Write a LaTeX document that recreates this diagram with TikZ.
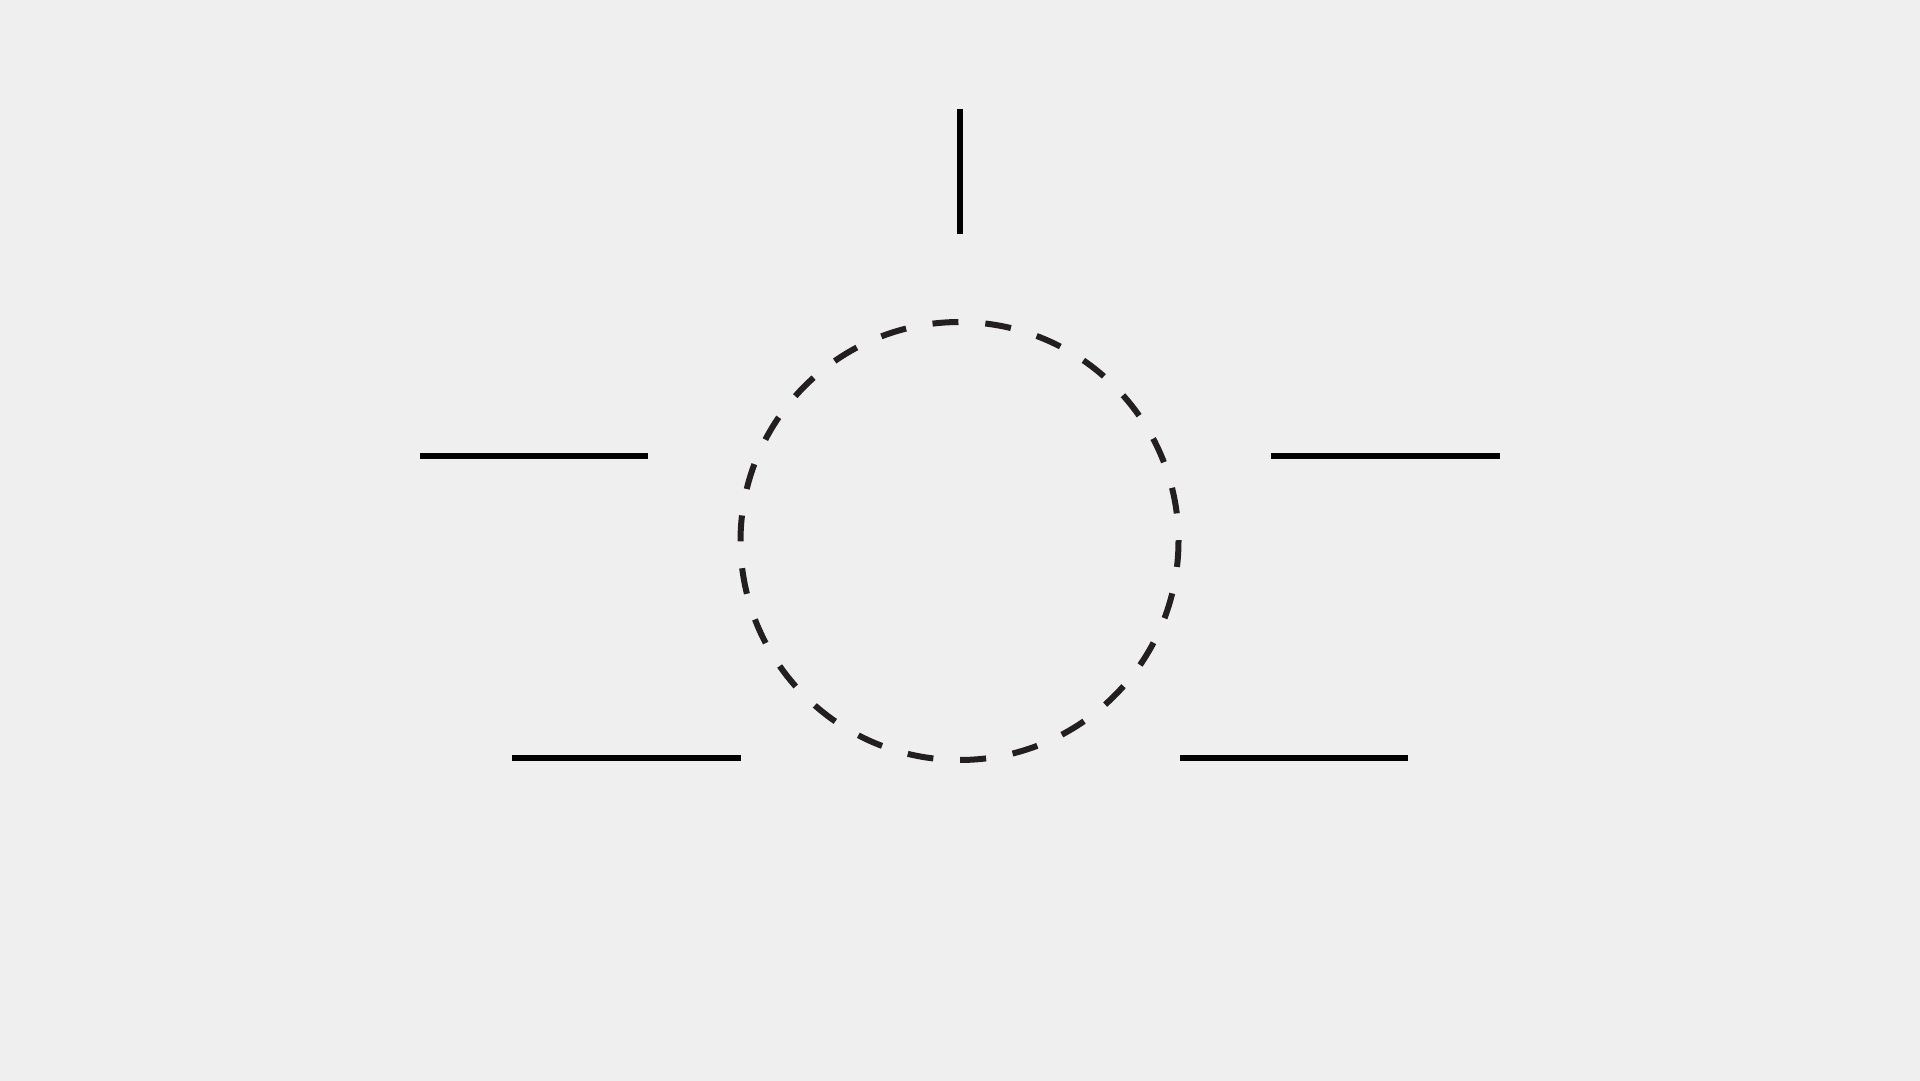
\documentclass[tikz,border=0pt]{standalone}
\definecolor{bg}{HTML}{EFEFEF}
\definecolor{dashcol}{HTML}{231F20}
\tikzset{
  bar/.style={line width=6pt, draw=black},
  ring/.style={line width=6pt, draw=dashcol, dash pattern=on 26pt off 26.9pt}
}
\begin{document}
\begin{tikzpicture}[x=1pt,y=-1pt]
\fill[bg] (0,0) rectangle (1920,1081);
\useasboundingbox (0,0) rectangle (1920,1081);
% top vertical
\draw[bar] (960,109) -- (960,234);
% middle row
\draw[bar] (420,455.5) -- (648,455.5);
\draw[bar] (1271,455.5) -- (1500,455.5);
% bottom row
\draw[bar] (512,758) -- (741,758);
\draw[bar] (1180,758) -- (1408,758);
% dashed circle
\draw[ring] (1178.5,541) arc[start angle=0, end angle=360, radius=219];
\end{tikzpicture}
\end{document}
